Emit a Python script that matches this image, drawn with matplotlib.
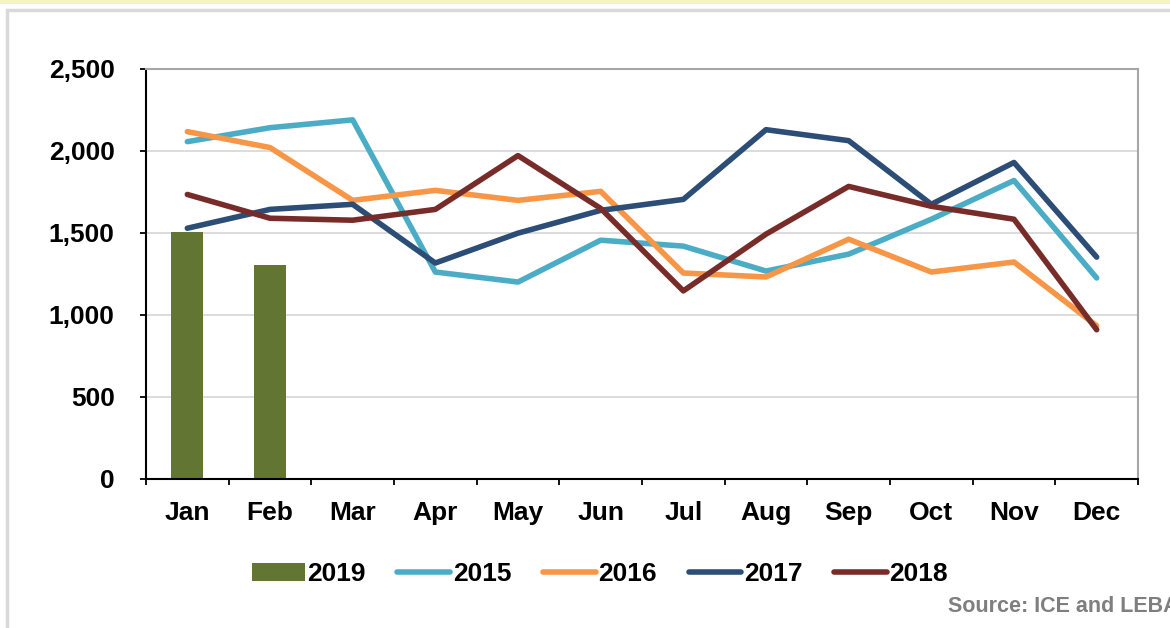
import matplotlib
matplotlib.use("Agg")
import matplotlib.pyplot as plt
import matplotlib.patches as mpatches
import numpy as np

plt.rcParams['font.family'] = ['Liberation Sans', 'DejaVu Sans']
plt.rcParams['font.weight'] = 'bold'

months = ["Jan", "Feb", "Mar", "Apr", "May", "Jun",
          "Jul", "Aug", "Sep", "Oct", "Nov", "Dec"]
vals_2019 = [1505, 1305]
vals_2015 = [2057, 2142, 2190, 1262, 1201, 1456, 1420, 1268, 1371, 1584, 1820, 1226]
vals_2016 = [2118, 2021, 1699, 1760, 1699, 1754, 1256, 1232, 1462, 1262, 1323, 934]
vals_2017 = [1529, 1644, 1675, 1317, 1499, 1638, 1705, 2130, 2063, 1675, 1930, 1353]
vals_2018 = [1735, 1590, 1578, 1644, 1972, 1650, 1147, 1493, 1784, 1663, 1584, 910]

c2019 = "#637532"
c2015 = "#4bacc6"
c2016 = "#f79646"
c2017 = "#2c4d75"
c2018 = "#772c2a"

W, H = 1170, 628
fig = plt.figure(figsize=(W / 100, H / 100), dpi=100)

# background frame like the source slide
fig.patches.append(mpatches.Rectangle((0, 1 - 4 / H), 1, 4 / H, transform=fig.transFigure,
                                      facecolor="#f5f3c0", edgecolor="none", zorder=-2))
fig.patches.append(mpatches.Rectangle((7 / W, -0.2), 1.2, 1.2 - 10 / H,
                                      transform=fig.transFigure, facecolor="white",
                                      edgecolor="#d9d9d9", lw=2.5, zorder=-2))

ax = fig.add_axes([146 / W, 1 - 479 / H, (1138 - 146) / W, (479 - 69) / H])
ax.set_zorder(1)
x = np.arange(len(months))

lw = 4.0
ax.bar(x[:len(vals_2019)], vals_2019, width=0.39, color=c2019, label="2019", zorder=2)
ax.plot(x, vals_2015, color=c2015, lw=lw, solid_capstyle="round", label="2015", zorder=3)
ax.plot(x, vals_2016, color=c2016, lw=lw, solid_capstyle="round", label="2016", zorder=3)
ax.plot(x, vals_2017, color=c2017, lw=lw, solid_capstyle="round", label="2017", zorder=3)
ax.plot(x, vals_2018, color=c2018, lw=lw, solid_capstyle="round", label="2018", zorder=3)

ax.set_xlim(-0.5, 11.5)
ax.set_ylim(0, 2500)
ax.set_yticks(np.arange(0, 2501, 500))
ax.set_yticklabels([f"{v:,}" for v in range(0, 2501, 500)])
ax.yaxis.grid(True, color="#d9d9d9", lw=1.3, zorder=0)
ax.set_axisbelow(True)

ax.set_xticks(x)
ax.set_xticklabels(months)
ax.set_xticks(np.arange(-0.5, 12, 1), minor=True)
ax.tick_params(axis="x", which="major", length=0, pad=16, labelsize=19)
ax.tick_params(axis="x", which="minor", length=4.5, width=1.3, direction="out")
ax.tick_params(axis="y", length=4.5, width=1.3, direction="out", pad=18, labelsize=19)

for s in ["top", "right"]:
    ax.spines[s].set_color("#a6a6a6")
    ax.spines[s].set_linewidth(1.5)
for s in ["left", "bottom"]:
    ax.spines[s].set_color("black")
    ax.spines[s].set_linewidth(1.5)

handles, labels = ax.get_legend_handles_labels()
order = [labels.index(l) for l in ["2019", "2015", "2016", "2017", "2018"]]
fig.legend([handles[i] for i in order], [labels[i] for i in order], loc="center",
           bbox_to_anchor=(600 / W, 1 - 574 / H),
           ncol=5, frameon=False, fontsize=19, handlelength=2.0, handletextpad=0.1,
           columnspacing=1.2)

# source note runs off the right edge in the original too
fig.text(948 / W, 1 - 606 / H, "Source: ICE and LEBA", fontsize=15.5, color="#7f7f7f",
         ha="left", va="center")

fig.savefig("out.png", dpi=100)
